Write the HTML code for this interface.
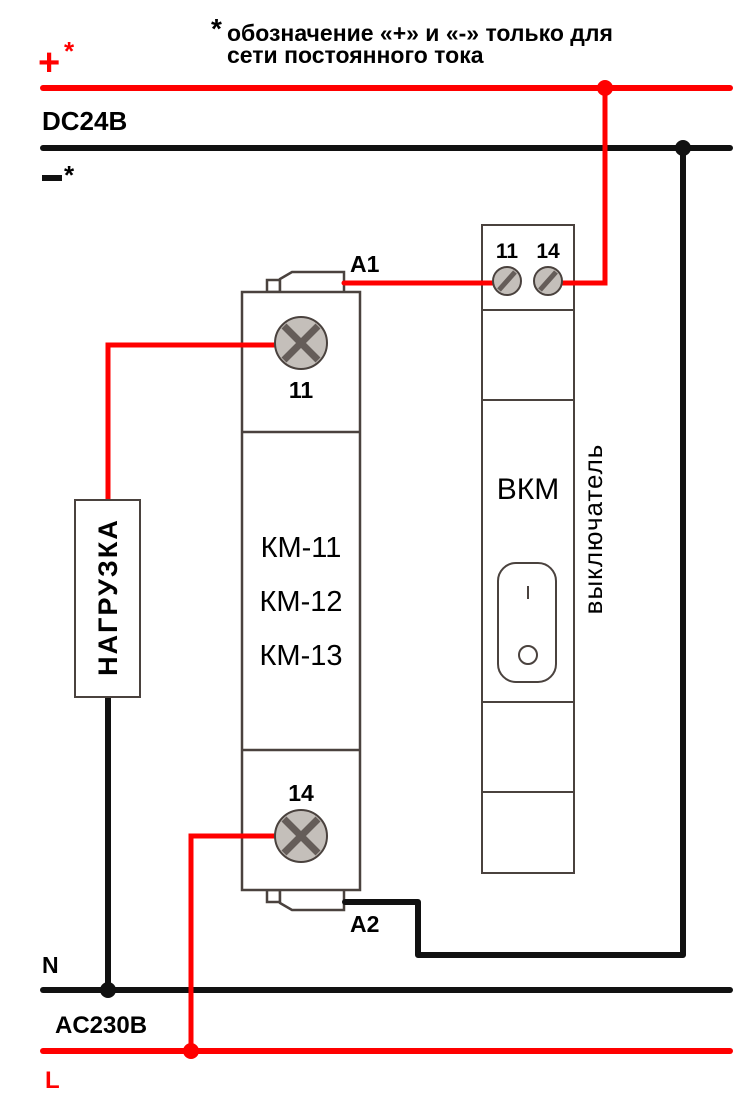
<!DOCTYPE html>
<html><head><meta charset="utf-8"><style>
html,body{margin:0;padding:0;background:#fff}
svg{display:block}
text{font-family:"Liberation Sans","DejaVu Sans",sans-serif}
.b{font-weight:bold}
</style></head><body>
<svg width="753" height="1109" viewBox="0 0 753 1109" xmlns="http://www.w3.org/2000/svg">
<!-- KM module -->
<g stroke="#4a423e" stroke-width="2.5" fill="#fff">
<rect x="267" y="280" width="13" height="12"/>
<path d="M280,292 L280,279 L292,272 L344,272 L344,292"/>
<rect x="267" y="890" width="13" height="12"/>
<path d="M280,890 L280,903 L292,910 L344,910 L344,890"/>
<rect x="242" y="292" width="118" height="598"/>
<line x1="242" y1="432" x2="360" y2="432"/>
<line x1="242" y1="750" x2="360" y2="750"/>
</g>
<!-- VKM module -->
<g stroke="#4a423e" stroke-width="2" fill="#fff">
<rect x="482" y="225" width="92" height="648"/>
<line x1="482" y1="310" x2="574" y2="310"/>
<line x1="482" y1="400" x2="574" y2="400"/>
<line x1="482" y1="702" x2="574" y2="702"/>
<line x1="482" y1="792" x2="574" y2="792"/>
<rect x="498" y="563" width="58" height="119" rx="18"/>
<circle cx="528" cy="655" r="9"/>
<line x1="528" y1="586" x2="528" y2="599"/>
</g>
<g stroke-linecap="round" fill="none">
<line x1="43" y1="148" x2="730" y2="148" stroke="#111" stroke-width="6"/>
<line x1="43" y1="990" x2="730" y2="990" stroke="#111" stroke-width="6"/>
<polyline points="683,148 683,955 418,955 418,902 345,902" stroke="#111" stroke-width="6" stroke-linejoin="round"/>
<line x1="108" y1="697" x2="108" y2="990" stroke="#111" stroke-width="6"/>
<line x1="43" y1="88" x2="730" y2="88" stroke="#f00" stroke-width="6"/>
<line x1="43" y1="1051" x2="730" y2="1051" stroke="#f00" stroke-width="6"/>
<polyline points="605,88 605,283 555,283" stroke="#f00" stroke-width="5"/>
<line x1="344" y1="283" x2="500" y2="283" stroke="#f00" stroke-width="5"/>
<polyline points="108,500 108,345 285,345" stroke="#f00" stroke-width="5"/>
<polyline points="191,1051 191,836 285,836" stroke="#f00" stroke-width="5"/>
</g>
<circle cx="605" cy="88" r="8" fill="#f00"/>
<circle cx="683" cy="148" r="8" fill="#111"/>
<circle cx="108" cy="990" r="8" fill="#111"/>
<circle cx="191" cy="1051" r="8" fill="#f00"/>
<g stroke="#4a423e" stroke-width="2">
<circle cx="301" cy="343" r="26" fill="#c4bfba"/>
<circle cx="301" cy="836" r="26" fill="#c4bfba"/>
<circle cx="507" cy="281" r="14" fill="#c4bfba"/>
<circle cx="548" cy="281" r="14" fill="#c4bfba"/>
</g>
<g stroke="#655d59" stroke-width="7">
<line x1="284" y1="326" x2="318" y2="360"/><line x1="318" y1="326" x2="284" y2="360"/>
<line x1="284" y1="819" x2="318" y2="853"/><line x1="318" y1="819" x2="284" y2="853"/>
</g>
<g stroke="#655d59" stroke-width="5">
<line x1="499" y1="290" x2="515" y2="272"/>
<line x1="540" y1="290" x2="556" y2="272"/>
</g>
<text x="301" y="398" font-size="23" text-anchor="middle" class="b">11</text>
<text x="301" y="801" font-size="23" text-anchor="middle" class="b">14</text>
<text x="301" y="557" font-size="29" text-anchor="middle">КМ-11</text>
<text x="301" y="611" font-size="29" text-anchor="middle">КМ-12</text>
<text x="301" y="665" font-size="29" text-anchor="middle">КМ-13</text>
<text x="350" y="272" font-size="23" class="b">A1</text>
<text x="350" y="932" font-size="23" class="b">A2</text>
<text x="507" y="258" font-size="21" text-anchor="middle" class="b">11</text>
<text x="548" y="258" font-size="21" text-anchor="middle" class="b">14</text>
<text x="528" y="499" font-size="30" text-anchor="middle">ВКМ</text>
<text transform="translate(602,529) rotate(-90)" font-size="26" text-anchor="middle" letter-spacing="1">выключатель</text>
<rect x="75" y="500" width="65" height="197" fill="#fff" stroke="#4a423e" stroke-width="2"/>
<text transform="translate(117,597) rotate(-90)" font-size="27" text-anchor="middle" class="b" letter-spacing="2">НАГРУЗКА</text>
<text x="38" y="75" font-size="38" fill="#f00" class="b">+</text>
<text x="64" y="60" font-size="26" fill="#f00" class="b">*</text>
<text x="42" y="130" font-size="26" class="b">DC24B</text>
<rect x="42" y="175" width="20" height="6" fill="#111"/>
<text x="64" y="184" font-size="26" class="b">*</text>
<text x="211" y="38" font-size="28" class="b">*</text>
<text x="227" y="41" font-size="23" class="b">обозначение «+» и «-» только для</text>
<text x="227" y="63" font-size="23" class="b">сети постоянного тока</text>
<text x="42" y="973" font-size="23" class="b">N</text>
<text x="55" y="1033" font-size="24" class="b">AC230B</text>
<text x="45" y="1088" font-size="24" fill="#f00" class="b">L</text>
</svg>
</body></html>
